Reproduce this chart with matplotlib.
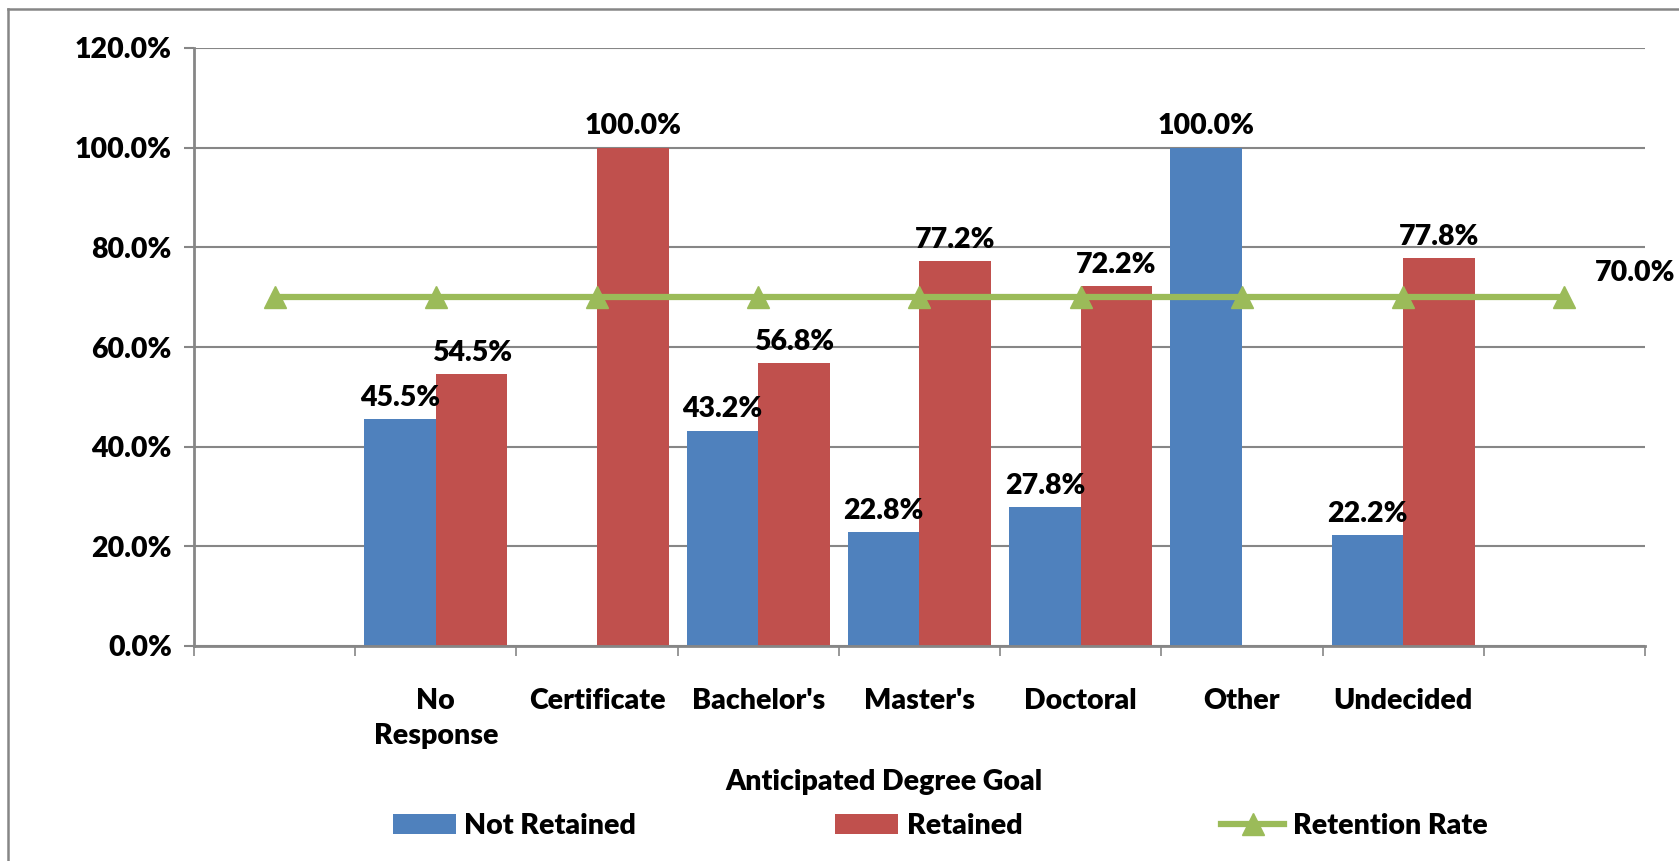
import numpy as np
import matplotlib
matplotlib.use('Agg')
import matplotlib.pyplot as plt
from matplotlib.lines import Line2D

WEIGHT = "heavy"
plt.rcParams.update({
    "font.family": ["Lato", "DejaVu Sans"],
    "font.weight": WEIGHT,
    "font.size": 20.5,
})

# ---- data ----
categories = ["", "No\nResponse", "Certificate", "Bachelor's", "Master's",
              "Doctoral", "Other", "Undecided", ""]
not_retained = [np.nan, 45.5, 0.0, 43.2, 22.8, 27.8, 100.0, 22.2, np.nan]
retained = [np.nan, 54.5, 100.0, 56.8, 77.2, 72.2, 0.0, 77.8, np.nan]
retention_rate = [70.0] * 9
yticks = [0, 20, 40, 60, 80, 100, 120]

BLUE = "#4F81BD"
RED = "#C0504D"
GREEN = "#9BBB59"
GRID = "#868686"

W, H = 1679, 861
fig = plt.figure(figsize=(W / 100, H / 100), dpi=100)
ax = fig.add_axes([194 / W, 1 - 646 / H, (1645 - 194) / W, (646 - 48) / H])

x = np.arange(len(categories))
bw = 0.444
b1 = ax.bar(x - bw / 2, not_retained, bw, color=BLUE, label="Not Retained", zorder=2)
b2 = ax.bar(x + bw / 2, retained, bw, color=RED, label="Retained", zorder=2)
ax.plot(x, retention_rate, color=GREEN, lw=4.5, marker="^", ms=16,
        label="Retention Rate", zorder=3)

# data labels (skip empty / zero)
for xs, vals in ((x - bw / 2, not_retained), (x + bw / 2, retained)):
    for xi, v in zip(xs, vals):
        if np.isnan(v) or v == 0:
            continue
        ax.annotate(f"{v:.1f}%", (xi, v), xytext=(0, 6), textcoords="offset points",
                    ha="center", va="bottom", fontweight=WEIGHT,
                    zorder=4, annotation_clip=False)
ax.annotate(f"{retention_rate[-1]:.1f}%", (x[-1], retention_rate[-1]), xytext=(22, 8),
            textcoords="offset points", ha="left", va="bottom",
            fontweight=WEIGHT, annotation_clip=False)

ax.set_xlim(-0.5, len(categories) - 0.5)
ax.set_ylim(0, 120)
ax.set_yticks(yticks)
ax.set_yticklabels([f"{t:.1f}%" for t in yticks], fontweight=WEIGHT)
ax.yaxis.grid(True, color=GRID, lw=1.5, zorder=0)
ax.set_axisbelow(True)

ax.set_xticks(np.arange(len(categories) + 1) - 0.5)
ax.set_xticklabels([])
ax.set_xticks(x, minor=True)
ax.set_xticklabels(categories, minor=True, linespacing=1.45, fontweight=WEIGHT)
ax.tick_params(axis="x", which="minor", length=0, pad=30)
ax.tick_params(axis="x", which="major", length=7, width=1.2, color=GRID)
ax.tick_params(axis="y", length=7, width=1.5, color=GRID, pad=9)

for s in ("top", "right"):
    ax.spines[s].set_visible(False)
for s in ("left", "bottom"):
    ax.spines[s].set_color(GRID)
    ax.spines[s].set_linewidth(2)

fig.text(884 / W, 1 - 782 / H, "Anticipated Degree Goal", ha="center", va="center",
         fontweight=WEIGHT)

handles = [b1, b2, Line2D([], [], color=GREEN, lw=4.5, marker="^", ms=16)]
fig.legend(handles, ["Not Retained", "Retained", "Retention Rate"],
           loc="center left", bbox_to_anchor=(393 / W, 1 - 826 / H), ncol=3,
           frameon=False, handlelength=2.2, handleheight=0.7, handletextpad=0.3,
           columnspacing=7.0, borderaxespad=0, borderpad=0,
           prop={"weight": WEIGHT, "size": 20.5})

# outer chart border (top and left visible)
fig.add_artist(Line2D([8 / W, 1], [1 - 9 / H, 1 - 9 / H], color=GRID, lw=1.8,
                      transform=fig.transFigure))
fig.add_artist(Line2D([8 / W, 8 / W], [0, 1 - 9 / H], color=GRID, lw=1.8,
                      transform=fig.transFigure))

fig.savefig("out.png", dpi=100)
